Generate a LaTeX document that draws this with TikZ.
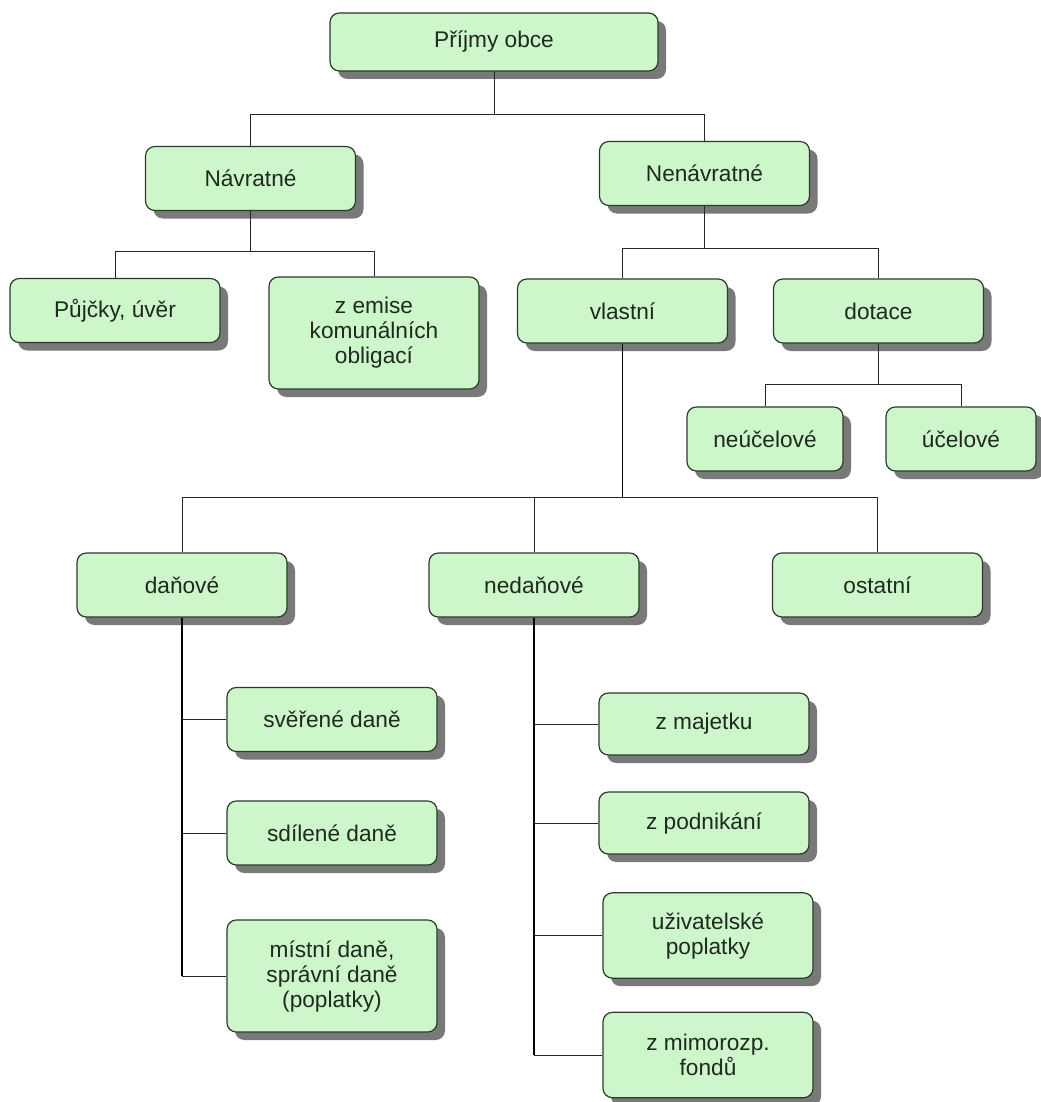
\documentclass[tikz,border=0pt]{standalone}
\usepackage{fontspec}
\setmainfont{Liberation Sans}
\usetikzlibrary{shadows}
\definecolor{boxGreen}{HTML}{CDF7CB}
\definecolor{boxEdge}{HTML}{2B3A2B}
\definecolor{textDark}{HTML}{1E2A1E}
\definecolor{shadowGrey}{HTML}{6A6A6A}
\tikzset{
  box/.style      = {draw=boxEdge, fill=boxGreen, line width=0.9pt, rounded corners=7pt,
                     inner sep=0pt, minimum width=157.5pt, minimum height=48pt,
                     align=center, text=textDark, font=\fontsize{17}{18.75}\selectfont,
                     drop shadow={shadow xshift=6pt, shadow yshift=-6pt,
                                  fill=shadowGrey, opacity=0.9}},
  tallbox/.style  = {box, minimum height=84pt},
  midbox/.style   = {box, minimum height=64pt},
  link/.style     = {black!85, line width=0.7pt},
  trunk/.style    = {black, line width=1.3pt},
}

\begin{document}
\begin{tikzpicture}[x=0.75pt,y=-0.75pt]
  \useasboundingbox (0,0) rectangle (1040,1102);
  % top levels
  \node[box, minimum width=246pt, minimum height=43.5pt] (prijmy) at (494,42) {Příjmy obce};
  \node[box] (navratne)   at (250.5,178.5) {Návratné};
  \node[box] (nenavratne) at (704.5,173.5) {Nenávratné};
  \node[box] (pujcky)     at (115,310.5)   {Půjčky, úvěr};
  \node[tallbox] (emise)  at (374,333)     {z emise\\komunálních\\obligací};
  \node[box] (vlastni)    at (622.5,311)   {vlastní};
  \node[box] (dotace)     at (878.5,311)   {dotace};
  \node[box, minimum width=117pt] (neucelove) at (765,439) {neúčelové};
  \node[box, minimum width=112.5pt] (ucelove) at (961,439) {účelové};
  \node[box] (danove)     at (182,585)     {daňové};
  \node[box] (nedanove)   at (534,585)     {nedaňové};
  \node[box] (ostatni)    at (877.5,585)   {ostatní};
  % dane
  \node[box] (sverene)    at (332,719.5)   {svěřené daně};
  \node[box] (sdilene)    at (332,833)     {sdílené daně};
  \node[tallbox] (mistni) at (332,976)     {místní daně,\\správní daně\\(poplatky)};
  % nedanove
  \node[box, minimum height=46.5pt] (majetek)   at (704,724)    {z majetku};
  \node[box, minimum height=46.5pt] (podnikani) at (704,823)    {z podnikání};
  \node[midbox] (poplatky)  at (708,935.5) {uživatelské\\poplatky};
  \node[midbox] (fondy)     at (708,1055)  {z mimorozp.\\fondů};

  \draw[link] (prijmy.south) -- ++(0,43) coordinate (j0);
  \draw[link] (navratne.north) |- (j0) -| (nenavratne.north);
  \draw[link] (navratne.south) -- ++(0,40) coordinate (j1);
  \draw[link] (pujcky.north) |- (j1) -| (emise.north);
  \draw[link] (nenavratne.south) -- ++(0,42) coordinate (j2);
  \draw[link] (vlastni.north) |- (j2) -| (dotace.north);
  \draw[link] (dotace.south) -- ++(0,41) coordinate (j3);
  \draw[link] (neucelove.north) |- (j3) -| (ucelove.north);
  \draw[trunk] (vlastni.south) -- ++(0,154) coordinate (j4);
  \draw[link] (danove.north) |- (j4) -| (ostatni.north);
  \draw[link] (nedanove.north) -- (nedanove.north |- j4);
  \draw[trunk] (danove.south) -- (danove.south |- mistni.west);
  \foreach \n in {sverene, sdilene, mistni}
    \draw[link] (\n.west) -- (\n.west -| danove.south);
  \draw[trunk] (nedanove.south) -- (nedanove.south |- fondy.west);
  \foreach \n in {majetek, podnikani, poplatky, fondy}
    \draw[link] (\n.west) -- (\n.west -| nedanove.south);
\end{tikzpicture}
\end{document}
